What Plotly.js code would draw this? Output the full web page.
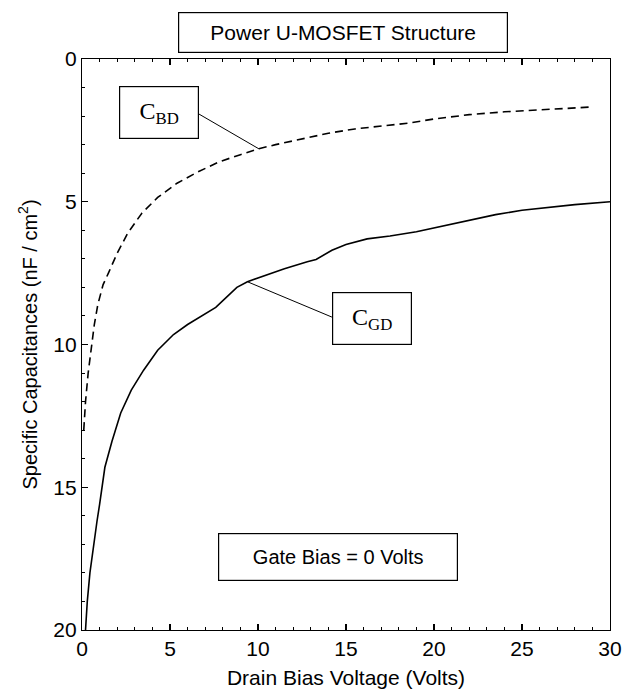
<!DOCTYPE html>
<html>
<head>
<meta charset="utf-8">
<script src="https://cdn.plot.ly/plotly-3.0.1.min.js"></script>
<style>html,body{margin:0;padding:0;background:#fff;}#chart{width:622px;height:692px;}</style>
</head>
<body>
<div id="chart"></div>
<script>
// C_BD (dashed) — Drain Bias Voltage (V) vs specific capacitance (nF/cm^2)
var cbdX = [0.1, 0.2, 0.35, 0.5, 0.7, 0.9, 1.2, 1.5, 2.0, 2.6, 3.4, 4.3, 5.4, 6.6, 7.8, 9.0, 10.0, 11.0, 12.5, 14.0, 15.5, 17.0, 18.5, 20.0, 22.0, 24.0, 26.0, 27.5, 29.0];
var cbdY = [13.0, 12.0, 11.0, 10.2, 9.3, 8.6, 7.9, 7.5, 6.8, 6.1, 5.4, 4.85, 4.35, 3.95, 3.6, 3.35, 3.15, 3.0, 2.8, 2.6, 2.45, 2.35, 2.25, 2.1, 1.95, 1.85, 1.78, 1.72, 1.68];
// C_GD (solid)
var cgdX = [0.2, 0.3, 0.45, 0.65, 0.85, 1.0, 1.3, 1.7, 2.2, 2.8, 3.5, 4.3, 5.2, 6.0, 6.8, 7.6, 8.2, 8.8, 9.4, 10.5, 11.5, 12.8, 13.3, 14.2, 15.0, 16.2, 17.5, 19.0, 20.5, 22.0, 23.5, 25.0, 26.5, 28.0, 30.0];
var cgdY = [20.0, 19.0, 18.0, 17.0, 16.2, 15.6, 14.3, 13.4, 12.4, 11.6, 10.9, 10.2, 9.65, 9.3, 9.0, 8.7, 8.35, 8.0, 7.8, 7.55, 7.35, 7.1, 7.02, 6.7, 6.5, 6.3, 6.2, 6.05, 5.85, 5.65, 5.45, 5.3, 5.2, 5.1, 5.0];

var xRange = [0, 30];
var yRange = [20, 0];
var xTitle = 'Drain Bias Voltage (Volts)';
var yTitle = 'Specific Capacitances (nF / cm<sup>2</sup>)';
var chartTitle = 'Power U-MOSFET Structure';
var cbdLabel = 'C<sub>BD</sub>';
var cgdLabel = 'C<sub>GD</sub>';
var biasLabel = 'Gate Bias = 0 Volts';

var sans = 'Liberation Sans, Arial, sans-serif';
var serif = 'Liberation Serif, Times New Roman, serif';

var traces = [
  {x: cbdX, y: cbdY, mode: 'lines', name: 'CBD', line: {color: '#000', width: 1.6, dash: '8px,5px'}, hoverinfo: 'skip'},
  {x: cgdX, y: cgdY, mode: 'lines', name: 'CGD', line: {color: '#000', width: 1.6}, hoverinfo: 'skip'}
];

var layout = {
  width: 622, height: 692,
  margin: {l: 82, r: 12, t: 59, b: 62},
  paper_bgcolor: '#fff', plot_bgcolor: '#fff',
  showlegend: false,
  font: {family: sans, color: '#000', size: 20},
  xaxis: {
    range: xRange, dtick: 5, tick0: 0,
    ticks: 'inside', ticklen: 6, tickwidth: 1.2, tickcolor: '#000',
    minor: {dtick: 1, ticks: 'inside', ticklen: 3, tickwidth: 1, tickcolor: '#000'},
    showline: true, linecolor: '#000', linewidth: 1.2, mirror: 'ticks',
    showgrid: false, zeroline: false,
    tickfont: {family: sans, size: 21, color: '#000'},
    title: {text: xTitle, font: {family: sans, size: 21, color: '#000'}, standoff: 10}
  },
  yaxis: {
    range: yRange, dtick: 5, tick0: 0,
    ticks: 'inside', ticklen: 6, tickwidth: 1.2, tickcolor: '#000',
    minor: {dtick: 1, ticks: 'inside', ticklen: 3, tickwidth: 1, tickcolor: '#000'},
    showline: true, linecolor: '#000', linewidth: 1.2, mirror: true,
    showgrid: false, zeroline: false,
    tickfont: {family: sans, size: 21, color: '#000'},
    title: {text: yTitle, font: {family: sans, size: 20, color: '#000'}, standoff: 10}
  },
  yaxis2: {
    overlaying: 'y', side: 'right', anchor: 'x',
    range: [30, 0], dtick: 5, tick0: 0,
    ticks: 'inside', ticklen: 6, tickwidth: 1.2, tickcolor: '#000',
    minor: {dtick: 1, ticks: 'inside', ticklen: 3, tickwidth: 1, tickcolor: '#000'},
    showticklabels: false, showline: false, showgrid: false, zeroline: false
  },
  shapes: [
    {type: 'line', xref: 'x', yref: 'y', x0: 6.65, y0: 1.93, x1: 10.06, y1: 3.15, line: {color: '#000', width: 1}},
    {type: 'line', xref: 'x', yref: 'y', x0: 14.2, y0: 9.04, x1: 9.43, y1: 7.81, line: {color: '#000', width: 1}}
  ],
  annotations: [
    {text: chartTitle, xref: 'paper', yref: 'paper', x: 0.494, y: 1.047, showarrow: false,
     xanchor: 'center', yanchor: 'middle', width: 326, height: 37, borderpad: 1,
     bordercolor: '#000', borderwidth: 1.2, bgcolor: '#fff',
     font: {family: sans, size: 21, color: '#000'}},
    {text: cbdLabel, xref: 'x', yref: 'y', x: 4.35, y: 1.86, showarrow: false,
     xanchor: 'center', yanchor: 'middle', width: 76, height: 49, borderpad: 1,
     bordercolor: '#000', borderwidth: 1.2, bgcolor: '#fff',
     font: {family: serif, size: 24, color: '#000'}},
    {text: cgdLabel, xref: 'x', yref: 'y', x: 16.45, y: 9.1, showarrow: false,
     xanchor: 'center', yanchor: 'middle', width: 76, height: 49, borderpad: 1,
     bordercolor: '#000', borderwidth: 1.2, bgcolor: '#fff',
     font: {family: serif, size: 24, color: '#000'}},
    {text: biasLabel, xref: 'x', yref: 'y', x: 14.55, y: 17.43, showarrow: false,
     xanchor: 'center', yanchor: 'middle', width: 236, height: 44, borderpad: 1,
     bordercolor: '#000', borderwidth: 1.2, bgcolor: '#fff',
     font: {family: sans, size: 20, color: '#000'}}
  ]
};

Plotly.newPlot('chart', traces, layout, {staticPlot: true, displayModeBar: false});
</script>
</body>
</html>
